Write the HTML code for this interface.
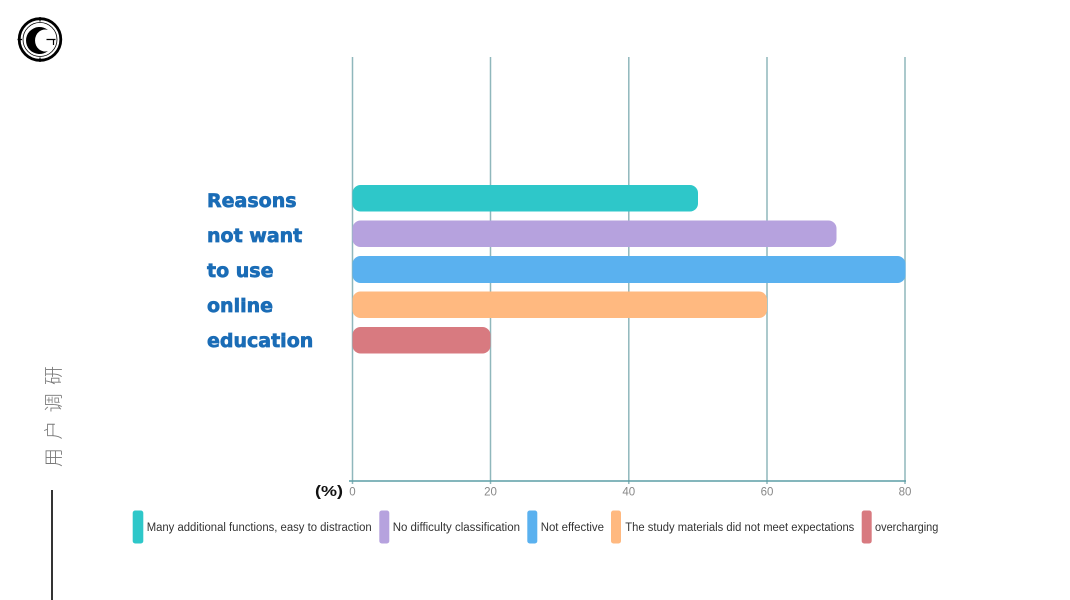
<!DOCTYPE html>
<html><head><meta charset="utf-8"><style>
html,body{margin:0;padding:0;background:#fff;}
svg{display:block;}
</style></head><body>
<svg width="1070" height="600" viewBox="0 0 1070 600" xmlns="http://www.w3.org/2000/svg">
<rect width="1070" height="600" fill="#fff"/>
<!-- logo -->
<g>
<circle cx="40" cy="39.5" r="20.8" fill="none" stroke="#000" stroke-width="2.8"/>
<circle cx="40" cy="39.5" r="17" fill="none" stroke="#000" stroke-width="0.8"/>
<path d="M48 30 A13.5 13.5 0 1 0 48 51 A10 11 0 1 1 48 30 Z" fill="#000"/>
<path d="M46.5 39.5 H55.5 M53.5 39.5 V45" stroke="#000" stroke-width="1.2" fill="none"/>
<path d="M40 17 V21.5 M40 57.5 V62 M17.5 39.5 H22" stroke="#000" stroke-width="1.2"/>
</g>
<!-- vertical chinese -->
<text transform="translate(52.5,467) rotate(-90)" x="0" y="0" dominant-baseline="central" font-family="'Noto Sans CJK SC','WenQuanYi Zen Hei',sans-serif" font-size="19" font-weight="300" fill="#777" textLength="101" lengthAdjust="spacing">用户调研</text>
<line x1="52" y1="490" x2="52" y2="600" stroke="#000" stroke-width="1.6"/>
<!-- grid -->
<g stroke="#8fb7bc" stroke-width="1.5">
<line x1="352.5" y1="57" x2="352.5" y2="484"/>
<line x1="490.5" y1="57" x2="490.5" y2="484"/>
<line x1="628.8" y1="57" x2="628.8" y2="484"/>
<line x1="767" y1="57" x2="767" y2="484"/>
<line x1="905" y1="57" x2="905" y2="484"/>
</g>
<line x1="349" y1="481" x2="906" y2="481" stroke="#5c9ea5" stroke-width="1.5"/>
<!-- bars -->
<rect x="352.5" y="185" width="345.5" height="26.5" rx="8" fill="#2ec7c9"/>
<rect x="352.5" y="220.5" width="484" height="26.5" rx="8" fill="#b6a2de"/>
<rect x="352.5" y="256" width="553" height="27" rx="8" fill="#5ab1ef"/>
<rect x="352.5" y="291.5" width="414.5" height="26.5" rx="8" fill="#ffb980"/>
<rect x="352.5" y="327" width="138" height="26.5" rx="8" fill="#d87a80"/>
<!-- ticks -->
<g font-family="'Liberation Sans',sans-serif" font-size="11.5" fill="#888" text-anchor="middle">
<text x="352.5" y="495.5">0</text>
<text x="490.5" y="495.5">20</text>
<text x="628.8" y="495.5">40</text>
<text x="767" y="495.5">60</text>
<text x="905" y="495.5">80</text>
</g>
<text x="315" y="496" font-family="'Liberation Sans',sans-serif" font-weight="bold" font-size="15" fill="#111" textLength="28" lengthAdjust="spacingAndGlyphs">(%)</text>
<!-- title -->
<g font-family="'DejaVu Sans',sans-serif" font-weight="bold" font-size="19" fill="#1a6cb6" stroke="#1a6cb6" stroke-width="0.7">
<text x="207" y="207">Reasons</text>
<text x="207" y="242">not want</text>
<text x="207" y="277">to use</text>
<text x="207" y="312">online</text>
<text x="207" y="347">education</text>
</g>
<!-- legend -->
<rect x="132.7" y="510.5" width="10.6" height="33" rx="2.5" fill="#2ec7c9"/>
<rect x="379.3" y="510.5" width="10" height="33" rx="2.5" fill="#b6a2de"/>
<rect x="527.3" y="510.5" width="10" height="33" rx="2.5" fill="#5ab1ef"/>
<rect x="611" y="510.5" width="10" height="33" rx="2.5" fill="#ffb980"/>
<rect x="861.7" y="510.5" width="10" height="33" rx="2.5" fill="#d87a80"/>
<g font-family="'Liberation Sans',sans-serif" font-size="11.5" fill="#333">
<text x="146.7" y="531" textLength="225" lengthAdjust="spacingAndGlyphs">Many additional functions, easy to distraction</text>
<text x="392.7" y="531" textLength="127.3" lengthAdjust="spacingAndGlyphs">No difficulty classification</text>
<text x="540.7" y="531" textLength="63.3" lengthAdjust="spacingAndGlyphs">Not effective</text>
<text x="625.3" y="531" textLength="229" lengthAdjust="spacingAndGlyphs">The study materials did not meet expectations</text>
<text x="875" y="531" textLength="63.3" lengthAdjust="spacingAndGlyphs">overcharging</text>
</g>
</svg>
</body></html>
